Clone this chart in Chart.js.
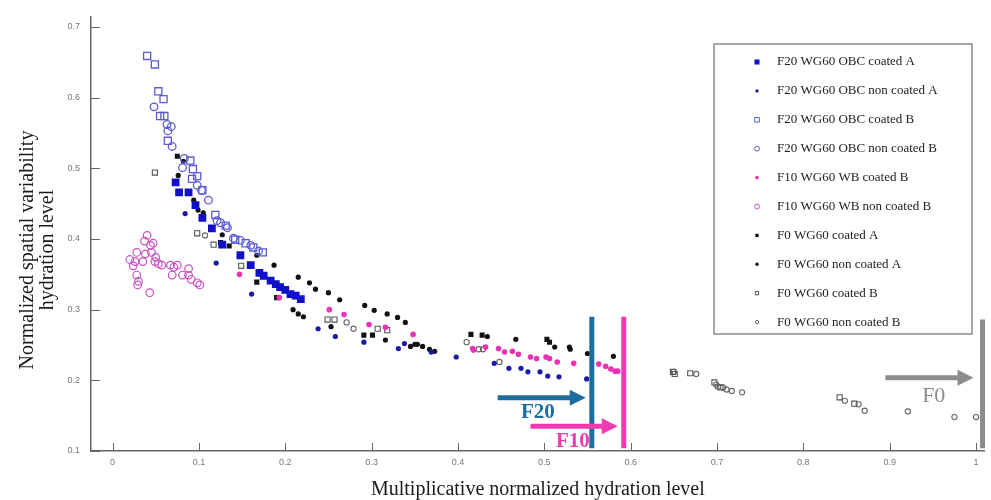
<!DOCTYPE html>
<html>
<head>
<meta charset="utf-8">
<script src="https://cdn.jsdelivr.net/npm/chart.js@4.4.1/dist/chart.umd.min.js"></script>
<style>
  html, body { margin: 0; padding: 0; background: #fff; }
  .chart-box { width: 991px; height: 500px; }
</style>
</head>
<body>
<div class="chart-box"><canvas id="hydrationChart" width="991" height="500"></canvas></div>
<script>
// [multiplicative hydration level, spatial variability] per sample
const f20CoatedA = [
  [0.073, 0.480], [0.077, 0.466], [0.088, 0.466], [0.096, 0.448], [0.104, 0.430],
  [0.115, 0.415], [0.127, 0.392], [0.148, 0.377], [0.160, 0.363], [0.170, 0.352],
  [0.175, 0.348], [0.183, 0.341], [0.189, 0.336], [0.194, 0.332], [0.200, 0.328],
  [0.206, 0.322], [0.212, 0.320], [0.218, 0.315],
];
const f20NonCoatedA = [
  [0.084, 0.436], [0.120, 0.366], [0.161, 0.322], [0.238, 0.273], [0.258, 0.262],
  [0.291, 0.254], [0.331, 0.245], [0.338, 0.252], [0.369, 0.240], [0.398, 0.233],
  [0.442, 0.224], [0.459, 0.217], [0.473, 0.217], [0.481, 0.212], [0.495, 0.212],
  [0.504, 0.206], [0.517, 0.205], [0.549, 0.202],
];
const f20CoatedB = [
  [0.040, 0.659], [0.049, 0.647], [0.053, 0.609], [0.059, 0.598], [0.055, 0.574],
  [0.060, 0.574], [0.064, 0.539], [0.090, 0.511], [0.093, 0.499], [0.098, 0.489],
  [0.092, 0.485], [0.104, 0.469], [0.119, 0.434], [0.131, 0.419], [0.142, 0.399],
  [0.154, 0.394], [0.163, 0.388], [0.174, 0.381],
];
const f20NonCoatedB = [
  [0.048, 0.587], [0.063, 0.562], [0.068, 0.559], [0.064, 0.553], [0.069, 0.531],
  [0.083, 0.514], [0.081, 0.501], [0.098, 0.476], [0.103, 0.469], [0.111, 0.455],
  [0.121, 0.426], [0.125, 0.423], [0.133, 0.416], [0.140, 0.401], [0.148, 0.398],
  [0.160, 0.391], [0.169, 0.383],
];
const f10CoatedB = [
  [0.147, 0.350], [0.193, 0.317], [0.251, 0.300], [0.268, 0.293], [0.297, 0.279],
  [0.316, 0.275], [0.348, 0.265], [0.417, 0.245], [0.418, 0.243], [0.432, 0.247],
  [0.447, 0.245], [0.454, 0.240], [0.463, 0.241], [0.470, 0.237], [0.484, 0.233],
  [0.491, 0.231], [0.502, 0.233], [0.506, 0.231], [0.515, 0.226], [0.534, 0.224],
  [0.563, 0.223], [0.571, 0.220], [0.577, 0.216], [0.582, 0.213], [0.585, 0.213],
];
const f10NonCoatedB = [
  [0.040, 0.405], [0.037, 0.397], [0.044, 0.391], [0.047, 0.394], [0.028, 0.381],
  [0.038, 0.379], [0.045, 0.381], [0.050, 0.374], [0.020, 0.371], [0.026, 0.368],
  [0.035, 0.368], [0.049, 0.368], [0.024, 0.362], [0.053, 0.365], [0.057, 0.363],
  [0.067, 0.363], [0.071, 0.360], [0.075, 0.363], [0.088, 0.358], [0.069, 0.349],
  [0.081, 0.349], [0.088, 0.349], [0.091, 0.343], [0.098, 0.338], [0.101, 0.335],
  [0.028, 0.349], [0.030, 0.340], [0.029, 0.335], [0.043, 0.324],
];
const f0CoatedA = [
  [0.075, 0.517], [0.125, 0.395], [0.135, 0.390], [0.167, 0.339], [0.190, 0.317],
  [0.291, 0.264], [0.301, 0.264], [0.415, 0.265], [0.428, 0.264], [0.503, 0.258],
  [0.506, 0.254],
];
const f0NonCoatedA = [
  [0.082, 0.510], [0.076, 0.490], [0.094, 0.455], [0.099, 0.441], [0.105, 0.437],
  [0.127, 0.406], [0.167, 0.377], [0.187, 0.363], [0.215, 0.346], [0.228, 0.338],
  [0.235, 0.329], [0.250, 0.324], [0.263, 0.314], [0.292, 0.306], [0.303, 0.299],
  [0.318, 0.294], [0.330, 0.289], [0.339, 0.282], [0.209, 0.300], [0.215, 0.294],
  [0.221, 0.290], [0.253, 0.276], [0.316, 0.257], [0.345, 0.248], [0.350, 0.251],
  [0.353, 0.251], [0.359, 0.248], [0.367, 0.244], [0.373, 0.241], [0.434, 0.262],
  [0.467, 0.258], [0.512, 0.247], [0.529, 0.247], [0.530, 0.244], [0.550, 0.238],
  [0.580, 0.234],
];
const f0CoatedB = [
  [0.049, 0.494], [0.098, 0.408], [0.117, 0.392], [0.149, 0.362], [0.249, 0.286],
  [0.257, 0.286], [0.307, 0.273], [0.318, 0.271], [0.649, 0.212], [0.651, 0.209],
  [0.669, 0.210], [0.697, 0.197], [0.704, 0.190], [0.842, 0.176], [0.859, 0.167],
];
const f0NonCoatedB = [
  [0.107, 0.405], [0.271, 0.282], [0.279, 0.273], [0.410, 0.254], [0.424, 0.244],
  [0.429, 0.244], [0.448, 0.226], [0.650, 0.212], [0.676, 0.209], [0.699, 0.194],
  [0.701, 0.191], [0.707, 0.190], [0.711, 0.187], [0.717, 0.185], [0.729, 0.183],
  [0.848, 0.171], [0.864, 0.166], [0.871, 0.157], [0.921, 0.156], [0.975, 0.148],
  [1.000, 0.148],
];

const seriesNames = [
  "F20 WG60 OBC coated A",
  "F20 WG60 OBC non coated A",
  "F20 WG60 OBC coated B",
  "F20 WG60 OBC non coated B",
  "F10 WG60 WB coated B",
  "F10 WG60 WB non coated B",
  "F0 WG60 coated A",
  "F0 WG60 non coated A",
  "F0 WG60 coated B",
  "F0 WG60 non coated B",
];
const seriesPoints = [
  f20CoatedA, f20NonCoatedA, f20CoatedB, f20NonCoatedB, f10CoatedB,
  f10NonCoatedB, f0CoatedA, f0NonCoatedA, f0CoatedB, f0NonCoatedB,
];

const xTickValues = [0, 0.1, 0.2, 0.3, 0.4, 0.5, 0.6, 0.7, 0.8, 0.9, 1];
const yTickValues = [0.1, 0.2, 0.3, 0.4, 0.5, 0.6, 0.7];
const yTitleLines = ["Normalized spatial variability", "hydration level"];

// hydration limits: vertical bar, arrow pointing at it and its name
const limitNames = ["F20", "F10", "F0"];
const limitX = [0.555, 0.592, 1.0075];
const limitTop = [0.29, 0.29, 0.286];
const limitBottom = [0.104, 0.104, 0.104];
const arrowStart = [0.446, 0.484, 0.895];
const arrowEnd = [0.548, 0.585, 0.997];
const arrowY = [0.1755, 0.135, 0.2035];
const limitLabelX = [0.4925, 0.533, 0.951];
const limitLabelY = [0.1545, 0.114, 0.177];

const limitColors = ["#1d6e9e", "#ee3cb0", "#8c8c8c"];
const limitFonts = [
  "bold 21px 'Liberation Serif'",
  "bold 21px 'Liberation Serif'",
  "22px 'Liberation Serif'",
];

const seriesStyles = [
  { shape: "rect", fill: "#1010c8", stroke: "#1010c8", radius: 5.5, width: 0 },
  { shape: "circle", fill: "#1a1aa8", stroke: "#1a1aa8", radius: 2.6, width: 0 },
  { shape: "rect", fill: "rgba(0,0,0,0)", stroke: "#5a5ad6", radius: 5, width: 1.3 },
  { shape: "circle", fill: "rgba(0,0,0,0)", stroke: "#5a5ad6", radius: 3.8, width: 1.3 },
  { shape: "circle", fill: "#ec32b4", stroke: "#ec32b4", radius: 2.8, width: 0 },
  { shape: "circle", fill: "rgba(0,0,0,0)", stroke: "#c850c4", radius: 3.8, width: 1.2 },
  { shape: "rect", fill: "#111", stroke: "#111", radius: 3.6, width: 0 },
  { shape: "circle", fill: "#111", stroke: "#111", radius: 2.6, width: 0 },
  { shape: "rect", fill: "rgba(0,0,0,0)", stroke: "#555", radius: 3.6, width: 1.1 },
  { shape: "circle", fill: "rgba(0,0,0,0)", stroke: "#666", radius: 2.6, width: 1.1 },
];

const datasetList = seriesNames.map((name, index) => {
  const style = seriesStyles[index];
  return {
    label: name,
    data: seriesPoints[index].map((p) => ({ x: p[0], y: p[1] })),
    pointStyle: style.shape,
    pointRadius: style.radius,
    backgroundColor: style.fill,
    borderColor: style.stroke,
    pointBorderWidth: style.width,
    showLine: false,
  };
});

const drawArrow = (ctx, x1, x2, y, color) => {
  const head = 16;
  ctx.strokeStyle = color;
  ctx.fillStyle = color;
  ctx.lineWidth = 5;
  ctx.beginPath();
  ctx.moveTo(x1, y);
  ctx.lineTo(x2 - head + 2, y);
  ctx.stroke();
  ctx.beginPath();
  ctx.moveTo(x2, y);
  ctx.lineTo(x2 - head, y - 8);
  ctx.lineTo(x2 - head, y + 8);
  ctx.closePath();
  ctx.fill();
};

const hydrationLayer = {
  id: "hydrationLayer",
  afterDatasetsDraw(chart) {
    const { ctx, scales } = chart;
    const x = scales.x, y = scales.y;
    ctx.save();
    limitNames.forEach((name, i) => {
      const px = x.getPixelForValue(limitX[i]);
      ctx.strokeStyle = limitColors[i];
      ctx.lineWidth = 5;
      ctx.beginPath();
      ctx.moveTo(px, y.getPixelForValue(limitTop[i]));
      ctx.lineTo(px, y.getPixelForValue(limitBottom[i]));
      ctx.stroke();

      drawArrow(
        ctx,
        x.getPixelForValue(arrowStart[i]),
        x.getPixelForValue(arrowEnd[i]),
        y.getPixelForValue(arrowY[i]),
        limitColors[i]
      );

      ctx.font = limitFonts[i];
      ctx.fillStyle = limitColors[i];
      ctx.textAlign = "center";
      ctx.textBaseline = "middle";
      ctx.fillText(name, x.getPixelForValue(limitLabelX[i]), y.getPixelForValue(limitLabelY[i]));
    });
    ctx.restore();
  },
  afterDraw(chart) {
    const { ctx, chartArea, scales } = chart;
    ctx.save();

    // inward tick marks
    ctx.strokeStyle = "#666";
    ctx.lineWidth = 1;
    xTickValues.forEach((v) => {
      const px = Math.round(scales.x.getPixelForValue(v)) + 0.5;
      ctx.beginPath();
      ctx.moveTo(px, chartArea.bottom);
      ctx.lineTo(px, chartArea.bottom - 8);
      ctx.stroke();
    });
    yTickValues.forEach((v) => {
      const py = Math.round(scales.y.getPixelForValue(v)) + 0.5;
      ctx.beginPath();
      ctx.moveTo(chartArea.left, py);
      ctx.lineTo(chartArea.left + 9, py);
      ctx.stroke();
    });

    // y axis title, two rotated lines
    ctx.save();
    ctx.translate(0, 250);
    ctx.rotate(-Math.PI / 2);
    ctx.font = "20px 'Liberation Serif'";
    ctx.fillStyle = "#1a1a1a";
    ctx.textAlign = "center";
    ctx.textBaseline = "middle";
    yTitleLines.forEach((line, i) => {
      ctx.fillText(line, 0, 28 + i * 20);
    });
    ctx.restore();

    // legend box
    const box = { left: 714, top: 44, right: 972, bottom: 334 };
    ctx.fillStyle = "#fff";
    ctx.fillRect(box.left, box.top, box.right - box.left, box.bottom - box.top);
    ctx.strokeStyle = "#8a8a8a";
    ctx.lineWidth = 1.5;
    ctx.strokeRect(box.left, box.top, box.right - box.left, box.bottom - box.top);

    chart.data.datasets.forEach((ds, i) => {
      const rowY = 62 + i * 28.9;
      ctx.fillStyle = ds.backgroundColor;
      ctx.strokeStyle = ds.borderColor;
      ctx.lineWidth = ds.pointBorderWidth ? 1 : 0;
      Chart.helpers.drawPoint(
        ctx,
        {
          pointStyle: ds.pointStyle,
          radius: ds.pointRadius * 0.65,
          rotation: 0,
          borderWidth: ds.pointBorderWidth ? 1 : 0,
        },
        757,
        rowY
      );
      ctx.fillStyle = "#222";
      ctx.font = "13px 'Liberation Serif'";
      ctx.textAlign = "left";
      ctx.textBaseline = "middle";
      ctx.fillText(ds.label, 777, rowY);
    });
    ctx.restore();
  },
};

const config = {
  type: "scatter",
  data: { datasets: datasetList },
  options: {
    responsive: false,
    animation: false,
    events: [],
    layout: { padding: { top: 12, right: 6, left: 0, bottom: 0 } },
    plugins: {
      legend: { display: false },
      tooltip: { enabled: false },
    },
    scales: {
      x: {
        type: "linear",
        min: -0.025,
        max: 1.01,
        afterBuildTicks: (scale) => {
          scale.ticks = xTickValues.map((v) => ({ value: v }));
        },
        afterFit: (scale) => {
          scale.height = 49;
        },
        grid: { display: false, drawTicks: false },
        border: { display: true, color: "#666", width: 1.5 },
        ticks: {
          padding: 6,
          color: "#777",
          font: { family: "Liberation Sans", size: 9 },
          maxRotation: 0,
          callback: (v) => String(+Number(v).toFixed(1)),
        },
        title: {
          display: true,
          text: "Multiplicative normalized hydration level",
          color: "#1a1a1a",
          font: { family: "Liberation Serif", size: 20, lineHeight: 1 },
          padding: { top: 0, bottom: 0 },
        },
      },
      y: {
        type: "linear",
        min: 0.1,
        max: 0.715,
        afterBuildTicks: (scale) => {
          scale.ticks = yTickValues.map((v) => ({ value: v }));
        },
        afterFit: (scale) => {
          scale.width = 91;
        },
        grid: { display: false, drawTicks: false },
        border: { display: true, color: "#666", width: 1.5 },
        ticks: {
          padding: 11,
          color: "#777",
          font: { family: "Liberation Sans", size: 9 },
          callback: (v) => String(+Number(v).toFixed(1)),
        },
      },
    },
  },
  plugins: [hydrationLayer],
};

const hydrationChart = new Chart(document.getElementById("hydrationChart"), config);
</script>
</body>
</html>
